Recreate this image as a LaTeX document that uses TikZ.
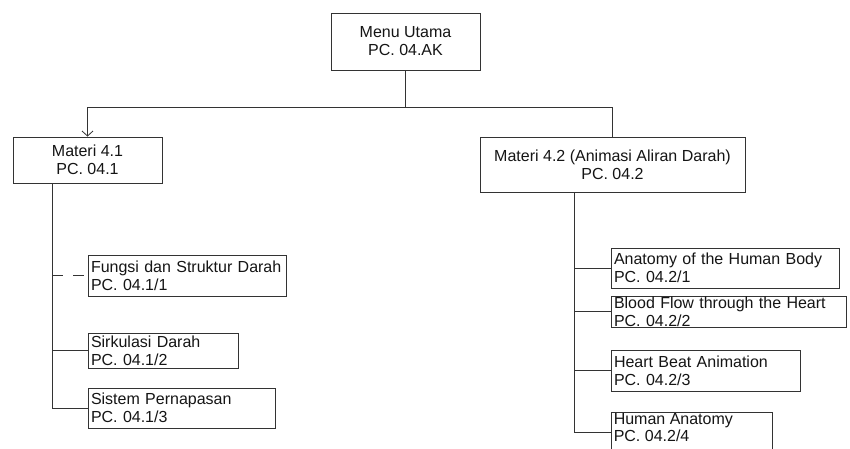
\documentclass[tikz,border=0pt]{standalone}
\usepackage{fontspec}
\setmainfont{Liberation Sans}
\usetikzlibrary{arrows.meta}
\definecolor{ink}{HTML}{151515}
\definecolor{rule}{HTML}{333333}
\begin{document}
\begin{tikzpicture}[x=1pt,y=-1pt,
  every node/.style={font=\fontsize{16}{18}\selectfont, text=ink},
  box/.style={draw=rule, line width=0.9pt, fill=white, rectangle, inner sep=0pt},
  parentbox/.style={box, align=center},
  childbox/.style={box, align=left, inner xsep=3pt},
  link/.style={draw=rule, line width=0.9pt},
  tip/.style={-{Straight Barb[length=5pt,width=11pt,line width=0.8pt]}}
]
\useasboundingbox (0,0) rectangle (850,448);
\clip (0,0) rectangle (850,448);

% top level
\node[parentbox, minimum width=149pt, minimum height=57pt] (menu) at (405.5,41.5)
  {Menu Utama\\PC. 04.AK};

% second level
\node[parentbox, minimum width=149pt, minimum height=46pt] (m41) at (87.5,160)
  {Materi 4.1\\PC. 04.1};
\node[parentbox, minimum width=265pt, minimum height=55pt] (m42) at (612.5,164.5)
  {Materi 4.2 (Animasi Aliran Darah)\\PC. 04.2};

% children of Materi 4.1
\node[childbox, text width=192pt, minimum height=41pt] (fungsi) at (187,275.5)
  {Fungsi dan Struktur Darah\\PC. 04.1/1};
\node[childbox, text width=144pt, minimum height=35pt] (sirk) at (163,350.5)
  {Sirkulasi Darah\\PC. 04.1/2};
\node[childbox, text width=181pt, minimum height=40pt] (sistem) at (181.5,408)
  {Sistem Pernapasan\\PC. 04.1/3};

% children of Materi 4.2
\node[childbox, text width=222pt, minimum height=40pt] (anat) at (725,268)
  {Anatomy of the Human Body\\PC. 04.2/1};
\node[childbox, text width=229pt, minimum height=31pt] (blood) at (728.5,311.5)
  {Blood Flow through the Heart\\PC. 04.2/2};
\node[childbox, text width=183pt, minimum height=41pt] (heart) at (705.5,370.5)
  {Heart Beat Animation\\PC. 04.2/3};
\node[childbox, text width=155pt, minimum height=40pt] (human) at (691.5,432)
  {};
\node[anchor=north west, align=left, inner sep=0pt, font=\fontsize{16}{17}\selectfont]
  (humantext) at ([xshift=3pt,yshift=-2pt]human.north west)
  {Human Anatomy\\PC. 04.2/4};

% bus and trunks
\coordinate (bus) at (406,107);
\coordinate (trunkL) at (52,0);
\coordinate (trunkR) at (574,0);

\draw[link] (menu.south) -- (menu.south |- bus);
\draw[link, tip] (menu.south |- bus) -| (m41.north);
\draw[link] (menu.south |- bus) -| (m42.north);

\draw[link] (m41.south -| trunkL) |- (sistem.west);
\draw[link, dashed, dash pattern=on 11pt off 10pt] (trunkL |- fungsi.west) -- (fungsi.west);
\draw[link] (trunkL |- sirk.west) -- (sirk.west);

\draw[link] (m42.south -| trunkR) |- (human.west);
\draw[link] (trunkR |- anat.west) -- (anat.west);
\draw[link] (trunkR |- blood.west) -- (blood.west);
\draw[link] (trunkR |- heart.west) -- (heart.west);
\end{tikzpicture}
\end{document}
